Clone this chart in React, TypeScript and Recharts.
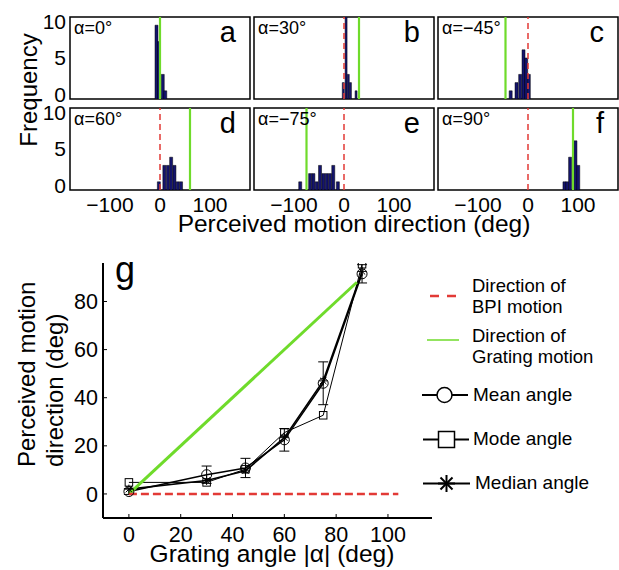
import React from "react";
import { ComposedChart, Bar, Line, XAxis, YAxis, ReferenceLine, ReferenceArea, ErrorBar } from "recharts";

const FONT = "'Liberation Sans', Arial, Helvetica, sans-serif";
const GREEN = "#6fdb2b";
const RED = "#e23a36";
const NAVY = "#14146e";

// histogram panels a-f: bin centres (deg) and counts
const A_BINS = [-7.5, -2.5, 5, 10];
const A_COUNTS = [9, 7, 3, 1];
const B_BINS = [-1.3, 4.3, 8.7, 13, 24.3];
const B_COUNTS = [2, 12, 3, 2, 1];
const C_BINS = [-35, -23.3, -16, -9.3, -4, 1.3];
const C_COUNTS = [1, 2, 3, 6, 5, 3];
const D_BINS = [-2, 9, 16, 22.6, 29.2, 35.8, 42.4];
const D_COUNTS = [1, 3, 3, 4, 3, 1, 1];
const E_BINS = [-87.3, -67.5, -61, -54.3, -47.7, -41, -34.4, -27.8, -21.2, -12];
const E_COUNTS = [1, 2, 2, 1, 3, 2, 2, 2, 3, 1];
const F_BINS = [72.7, 78.3, 84, 94.7, 100.3];
const F_COUNTS = [1, 1, 4, 6, 3];

const HIST_X_TICKS = [-100, 0, 100];
const HIST_Y_TICKS = [0, 5, 10];

// panel g
const ANGLES = [0, 30, 45, 60, 75, 90];
const MEAN = [1, 8, 10.8, 22.5, 46, 91.5];
const MEAN_ERR = [1.2, 3.6, 4, 4.7, 8.9, 3.8];
const MODE = [4.8, 4.8, 10.3, 25.5, 32.7, 95.5];
const MEDIAN = [2, 5.6, 9.6, 23.4, 47, 92.5];
const BPI_X = [0, 104];
const BPI_Y = [0, 0];
const GRATING_X = [0, 88];
const GRATING_Y = [0, 88];
const G_X_TICKS = [0, 20, 40, 60, 80, 100];
const G_Y_TICKS = [0, 20, 40, 60, 80];

const PANELS = [
  { bins: A_BINS, counts: A_COUNTS, alpha: 0, letter: "a", col: 0, row: 0 },
  { bins: B_BINS, counts: B_COUNTS, alpha: 30, letter: "b", col: 1, row: 0 },
  { bins: C_BINS, counts: C_COUNTS, alpha: -45, letter: "c", col: 2, row: 0 },
  { bins: D_BINS, counts: D_COUNTS, alpha: 60, letter: "d", col: 0, row: 1 },
  { bins: E_BINS, counts: E_COUNTS, alpha: -75, letter: "e", col: 1, row: 1 },
  { bins: F_BINS, counts: F_COUNTS, alpha: 90, letter: "f", col: 2, row: 1 },
];

const BOX_LEFTS = [70, 254, 438];
const BOX_TOPS = [17, 108];
const BOX_W = 180;
const BOX_H = 82;
const M = 10;

const fmt = (v: number) => (v < 0 ? "\u2212" + Math.abs(v) : String(v));

// MATLAB pulls the end labels of the count axis inside the box
const HistYTick = (props: any) => {
  const { x, y, payload } = props;
  const shift = payload.value === 10 ? 5 : payload.value === 0 ? -4 : 0;
  return (
    <text x={x} y={y + shift} dy="0.355em" textAnchor="end" fontSize={21} fontFamily={FONT} fill="#000">
      {fmt(payload.value)}
    </text>
  );
};

function Panel({ bins, counts, alpha, col, row }: any) {
  const data = bins.map((x: number, i: number) => ({ x, n: counts[i] }));
  const showY = col === 0;
  const showX = row === 1;
  const yW = showY ? 40 : 0;
  const xH = showX ? 30 : 0;
  const tickStyle = { fontSize: 21, fill: "#000", fontFamily: FONT };
  return (
    <div style={{ position: "absolute", left: BOX_LEFTS[col] - yW - M, top: BOX_TOPS[row] - M }}>
      <ComposedChart
        width={BOX_W + yW + 2 * M}
        height={BOX_H + xH + 2 * M}
        data={data}
        margin={{ top: M, right: M, bottom: M, left: M }}
        barCategoryGap={0}
      >
        <XAxis type="number" dataKey="x" domain={[-180, 180]} allowDataOverflow ticks={HIST_X_TICKS}
          interval={0} tickFormatter={fmt} height={xH} tick={showX ? tickStyle : false}
          tickSize={0} tickMargin={7} axisLine={false} tickLine={false} />
        <YAxis type="number" domain={[0, 10]} allowDataOverflow ticks={HIST_Y_TICKS} interval={0}
          width={yW} tick={showY ? <HistYTick /> : false} tickSize={0} tickMargin={4}
          axisLine={false} tickLine={false} />
        <Bar dataKey="n" fill={NAVY} stroke="#000" strokeWidth={0.5} isAnimationActive={false} />
        <ReferenceLine x={0} stroke={RED} strokeWidth={1.5} strokeDasharray="6 4" />
        <ReferenceLine x={alpha} stroke={GREEN} strokeWidth={2.2} />
        <ReferenceArea x1={-180} x2={180} y1={0} y2={10} fill="none" stroke="#000" strokeWidth={1.5} ifOverflow="visible" />
      </ComposedChart>
    </div>
  );
}

const circleDot = (r: number) => (props: any) => {
  const { cx, cy, index } = props;
  if (cx == null || cy == null) return <g key={`c${index}`} />;
  return <circle key={`c${index}`} cx={cx} cy={cy} r={r} fill="none" stroke="#000" strokeWidth={1} />;
};

const squareDot = (s: number) => (props: any) => {
  const { cx, cy, index } = props;
  if (cx == null || cy == null) return <g key={`s${index}`} />;
  return <rect key={`s${index}`} x={cx - s / 2} y={cy - s / 2} width={s} height={s} fill="none" stroke="#000" strokeWidth={1} />;
};

function Star({ cx, cy, r, w }: { cx: number; cy: number; r: number; w: number }) {
  const d = r * Math.SQRT1_2;
  return (
    <g stroke="#000" strokeWidth={w}>
      <line x1={cx - r} y1={cy} x2={cx + r} y2={cy} />
      <line x1={cx} y1={cy - r} x2={cx} y2={cy + r} />
      <line x1={cx - d} y1={cy - d} x2={cx + d} y2={cy + d} />
      <line x1={cx - d} y1={cy + d} x2={cx + d} y2={cy - d} />
    </g>
  );
}

const starDot = (r: number) => (props: any) => {
  const { cx, cy, index } = props;
  if (cx == null || cy == null) return <g key={`m${index}`} />;
  return <g key={`m${index}`}><Star cx={cx} cy={cy} r={r} w={1} /></g>;
};

function AngleChart() {
  const rows = ANGLES.map((x, i) => ({ x, mean: MEAN[i], meanErr: MEAN_ERR[i], mode: MODE[i], median: MEDIAN[i] }));
  const bpi = BPI_X.map((x, i) => ({ x, y: BPI_Y[i] }));
  const grating = GRATING_X.map((x, i) => ({ x, y: GRATING_Y[i] }));
  const tickStyle = { fontSize: 21.5, fill: "#000", fontFamily: FONT };
  const axisLine = { stroke: "#000", strokeWidth: 2 };
  return (
    <div style={{ position: "absolute", left: 0, top: 250 }}>
      <ComposedChart width={440} height={320} data={rows} margin={{ top: 13, right: 8, bottom: 0, left: 0 }}>
        <XAxis type="number" dataKey="x" domain={[-10, 117]} allowDataOverflow ticks={G_X_TICKS} interval={0}
          height={52} tick={tickStyle} tickSize={-4} tickMargin={13} axisLine={axisLine} tickLine={{ stroke: "#000" }} />
        <YAxis type="number" domain={[-10, 96]} allowDataOverflow ticks={G_Y_TICKS} interval={0}
          width={103} tick={tickStyle} tickSize={-4} tickMargin={9} axisLine={axisLine} tickLine={{ stroke: "#000" }} />
        <Line dataKey="mode" stroke="#000" strokeWidth={1} dot={squareDot(7.5)} activeDot={false} isAnimationActive={false} />
        <Line dataKey="mean" stroke="#000" strokeWidth={1.5} dot={circleDot(5)} activeDot={false} isAnimationActive={false}>
          <ErrorBar dataKey="meanErr" width={5} stroke="#000" strokeWidth={1} direction="y" />
        </Line>
        <Line dataKey="median" stroke="#000" strokeWidth={1.6} dot={starDot(4.5)} activeDot={false} isAnimationActive={false} />
        <Line data={grating} dataKey="y" stroke={GREEN} strokeWidth={3} dot={false} activeDot={false} isAnimationActive={false} />
        <Line data={bpi} dataKey="y" stroke={RED} strokeWidth={2.5} strokeDasharray="8 4" dot={false} activeDot={false} isAnimationActive={false} />
      </ComposedChart>
    </div>
  );
}

function Overlay() {
  const t = { fontFamily: FONT, fill: "#000" };
  return (
    <svg width={619} height={570} style={{ position: "absolute", left: 0, top: 0, pointerEvents: "none" }}>
      {PANELS.map((p) => (
        <g key={p.letter}>
          <text x={BOX_LEFTS[p.col] + 4} y={BOX_TOPS[p.row] + 16.5} fontSize={18} {...t}>
            {`α=${fmt(p.alpha)}°`}
          </text>
          <text x={BOX_LEFTS[p.col] + BOX_W - 14} y={BOX_TOPS[p.row] + 25} fontSize={29} textAnchor="end" {...t}>
            {p.letter}
          </text>
        </g>
      ))}
      <text x={37} y={90} fontSize={24} textAnchor="middle" transform="rotate(-90 37 90)" {...t}>Frequency</text>
      <text x={354} y={232} fontSize={24.5} textAnchor="middle" {...t}>Perceived motion direction (deg)</text>

      <text x={115} y={282} fontSize={36} {...t}>g</text>
      <text x={35} y={467} fontSize={24} transform="rotate(-90 35 467)" {...t}>Perceived motion</text>
      <text x={63} y={467} fontSize={24} transform="rotate(-90 63 467)" {...t}>direction (deg)</text>
      <text x={272} y={562} fontSize={24.5} textAnchor="middle" {...t}>Grating angle |α| (deg)</text>

      {/* legend */}
      <line x1={430} y1={296} x2={457} y2={296} stroke={RED} strokeWidth={2.5} strokeDasharray="9 8" />
      <text x={472} y={292} fontSize={18.5} {...t}>Direction of</text>
      <text x={472} y={313} fontSize={18.5} {...t}>BPI motion</text>
      <line x1={427} y1={340} x2={459} y2={340} stroke={GREEN} strokeWidth={1.5} />
      <text x={472} y={342} fontSize={18.5} {...t}>Direction of</text>
      <text x={472} y={363} fontSize={18.5} {...t}>Grating motion</text>

      <line x1={422} y1={395} x2={468} y2={395} stroke="#000" strokeWidth={2} />
      <circle cx={444.5} cy={395} r={7.5} fill="#fff" stroke="#000" strokeWidth={1.5} />
      <text x={473} y={401} fontSize={19} {...t}>Mean angle</text>

      <line x1={423} y1={439.5} x2={469} y2={439.5} stroke="#000" strokeWidth={2} />
      <rect x={438.5} y={431.5} width={16} height={16} fill="#fff" stroke="#000" strokeWidth={1.5} />
      <text x={473} y={445} fontSize={19} {...t}>Mode angle</text>

      <line x1={423} y1={483.5} x2={470} y2={483.5} stroke="#000" strokeWidth={2} />
      <Star cx={446.5} cy={483.5} r={8.5} w={2} />
      <text x={475} y={489} fontSize={19} {...t}>Median angle</text>
    </svg>
  );
}

export default function App() {
  return (
    <div style={{ position: "absolute", left: 0, top: 0, width: 619, height: 570, background: "#fff", overflow: "hidden" }}>
      {PANELS.map((p) => (
        <Panel key={p.letter} {...p} />
      ))}
      <AngleChart />
      <Overlay />
    </div>
  );
}
